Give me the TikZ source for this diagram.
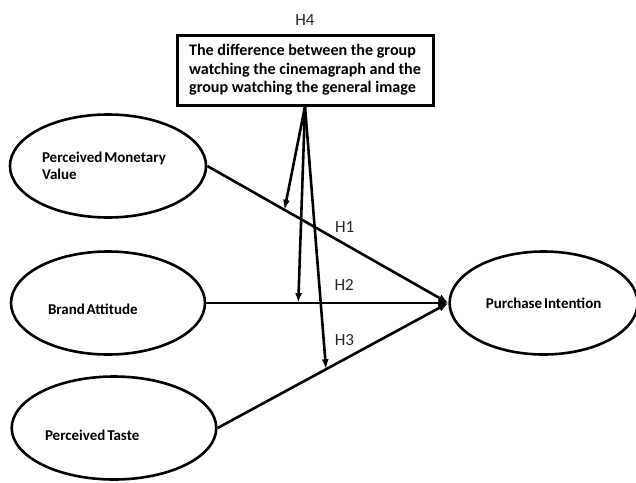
\documentclass[tikz,border=0pt]{standalone}
\usepackage{fontspec}
\setmainfont{Carlito}
\usetikzlibrary{shapes.geometric,arrows.meta,positioning}

\begin{document}
\begin{tikzpicture}[x=1pt,y=-1pt,
  var/.style={draw,ellipse,line width=2.6pt,minimum width=194pt,minimum height=103pt,align=left,font=\bfseries\fontsize{15}{17}\selectfont,execute at begin node={\spaceskip=.12em\relax}},
  grp/.style={draw,line width=3pt,minimum width=256pt,minimum height=70pt,inner sep=0pt,align=left,font=\bfseries\fontsize{16.1}{18.5}\selectfont},
  hyp/.style={black!85,font=\fontsize{17}{18}\selectfont},
  eff/.style={-{Latex[length=10pt,width=8pt]},line width=2.6pt},
  mod/.style={-{Latex[length=10pt,width=7pt]},line width=2.6pt}]
\useasboundingbox (0,0) rectangle (636,482);
\node[var,text width=132pt] (pmv) at (108,166) {Perceived Monetary\\Value};
\node[var,text width=120pt,text height=23pt,text depth=0pt] (ba) at (108,303) {Brand Attitude};
\node[var,text width=138pt,text height=25pt,text depth=0pt] (pt) at (114,428) {Perceived Taste};
\node[var,right=242pt of ba,minimum width=188pt,align=center] (pi) {Purchase Intention};
\node[grp] (grp) at (305,70) {The difference between the group\\watching the cinemagraph and the\\group watching the general image};
\node[hyp,above=4pt of grp] (h4) {H4};
% direct effects
\draw[eff] (pmv.east) -- coordinate[pos=0.32] (m1) node[hyp,pos=0.57,above=7pt] (h1) {H1} (pi.west);
\draw[eff] (ba.east) -- coordinate[pos=0.38] (m2) node[hyp,pos=0.57,above=8pt] (h2) {H2} (pi.west);
\draw[eff] (pt.east) -- coordinate[pos=0.47] (m3) node[hyp,pos=0.55,above=9pt] (h3) {H3} (pi.west);
% moderation
\draw[mod] (grp.south) -- (m1);
\draw[mod] (grp.south) -- (m2);
\draw[mod] (grp.south) -- (m3);
\end{tikzpicture}
\end{document}
